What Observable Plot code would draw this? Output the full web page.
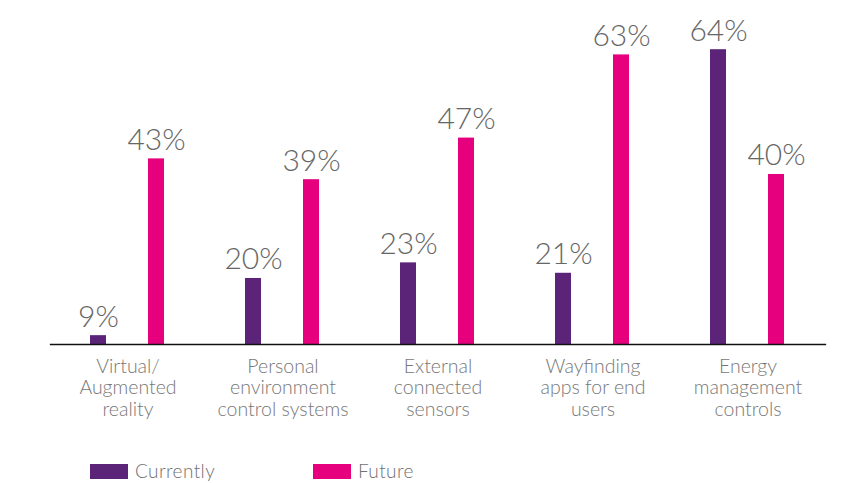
<!DOCTYPE html>
<html>
<head>
<meta charset="utf-8">
<script src="https://cdn.jsdelivr.net/npm/d3@7"></script>
<script src="https://cdn.jsdelivr.net/npm/@observablehq/plot@0.6"></script>
<style>
  body { margin: 0; background: #fff; font-family: Lato, "Noto Sans", sans-serif; }
  #chart svg { display: block; }
  .legend { display: flex; padding-left: 90px; margin-top: 20px; height: 22px; line-height: 22px; font-size: 19px; font-weight: 300; color: #707070; letter-spacing: 0.4px; }
  .item { display: flex; align-items: center; height: 22px; }
  .sw { width: 38px; height: 15px; margin-right: 7px; }
</style>
</head>
<body>
<div id="chart"></div>
<div class="legend" id="legend"></div>
<script>
const categories = [
  "Virtual/\nAugmented\nreality",
  "Personal\nenvironment\ncontrol systems",
  "External\nconnected\nsensors",
  "Wayfinding\napps for end\nusers",
  "Energy\nmanagement\ncontrols"
];
const series = ["Currently", "Future"];
const currently = [9, 20, 23, 21, 64];
const future = [43, 39, 47, 63, 40];
const colors = ["#5b2479", "#e6007e"];
const yMin = 7.3;
const yMax = 70;

const data = [];
categories.forEach((c, i) => {
  data.push({category: c, series: "Currently", value: currently[i]});
  data.push({category: c, series: "Future", value: future[i]});
});

const plot = Plot.plot({
  width: 854,
  height: 440,
  marginLeft: 27,
  marginRight: 12,
  marginTop: 18,
  marginBottom: 96,
  style: {fontFamily: "Lato, 'Noto Sans', sans-serif", background: "#fff", fontWeight: 300},
  fx: {domain: categories, paddingInner: 0, paddingOuter: 0.129, align: 0.5625, axis: null},
  x: {domain: series, paddingInner: 0.724, paddingOuter: 0.698, axis: null},
  y: {domain: [yMin, yMax], axis: null},
  color: {domain: series, range: colors},
  marks: [
    Plot.barY(data, {fx: "category", x: "series", y1: yMin, y2: "value", fill: "series"}),
    Plot.text(data, {fx: "category", x: "series", y: "value", text: d => d.value + "%",
      lineAnchor: "bottom", dy: -9, fontSize: 30, fontWeight: 300, fill: "#666"}),
    Plot.axisFx({anchor: "bottom", tickSize: 0, tickPadding: 13, fontSize: 19.5, fontWeight: 300, lineHeight: 1.1, color: "#777", label: null}),
    Plot.frame({anchor: "bottom", facet: "super", stroke: "#111", strokeWidth: 1.3})
  ]
});
document.getElementById("chart").appendChild(plot);

const legend = document.getElementById("legend");
series.forEach((s, i) => {
  const item = document.createElement("div");
  item.className = "item";
  if (i === 0) item.style.width = "223px";
  const sw = document.createElement("div");
  sw.className = "sw";
  sw.style.background = colors[i];
  const t = document.createElement("span");
  t.textContent = s;
  item.appendChild(sw);
  item.appendChild(t);
  legend.appendChild(item);
});
</script>
</body>
</html>
